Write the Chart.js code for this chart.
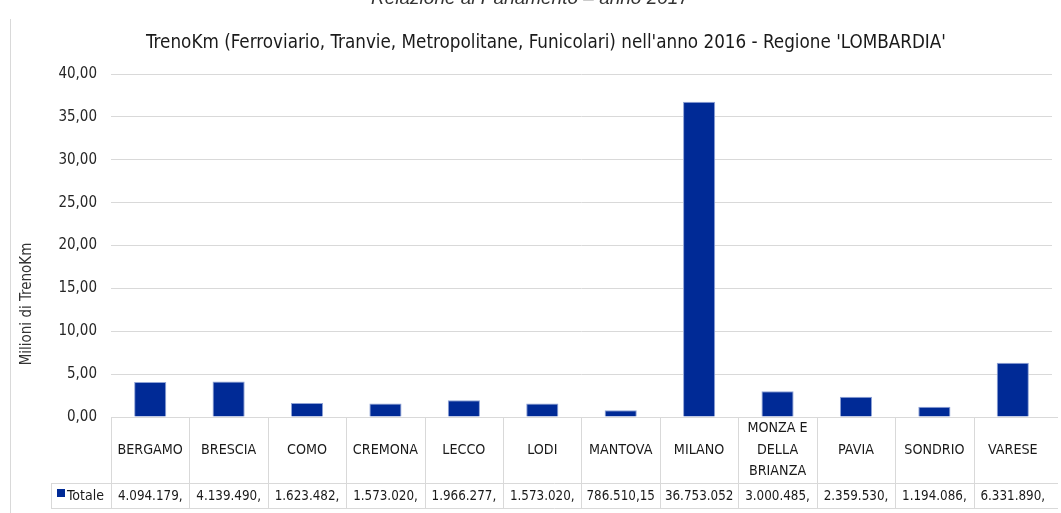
<!DOCTYPE html>
<html>
<head>
<meta charset="utf-8">
<script src="https://cdn.jsdelivr.net/npm/chart.js@4.4.1/dist/chart.umd.min.js"></script>
<style>
    html, body { margin: 0; padding: 0; background: #ffffff; }
    #wrap { position: relative; width: 1061px; height: 513px; overflow: hidden; }
</style>
</head>
<body>
<div id="wrap"><canvas id="trenoChart" width="1061" height="513"></canvas></div>
<script>
const province = ['BERGAMO', 'BRESCIA', 'COMO', 'CREMONA', 'LECCO', 'LODI', 'MANTOVA', 'MILANO',
    ['MONZA E', 'DELLA', 'BRIANZA'], 'PAVIA', 'SONDRIO', 'VARESE'];
const totaleMilioni = [4.094179, 4.139490, 1.623482, 1.573020, 1.966277, 1.573020, 0.786510,
    36.753052, 3.000485, 2.359530, 1.194086, 6.331890];
// testo della tabella dati, come appare (troncato) nel grafico
const totaleTesto = ['4.094.179,', '4.139.490,', '1.623.482,', '1.573.020,', '1.966.277,', '1.573.020,',
    '786.510,15', '36.753.052', '3.000.485,', '2.359.530,', '1.194.086,', '6.331.890,'];
const yTicks = [0, 5, 10, 15, 20, 25, 30, 35, 40];

const FONT = "'Liberation Sans Narrow', 'DejaVu Sans Condensed', 'Roboto', sans-serif";
const BLU = '#002a96';
const LINEA = '#d9d9d9';

const decorPlugin = {
    id: 'decor',
    afterDraw(chart) {
        const ctx = chart.ctx;
        const area = chart.chartArea;
        const x = chart.scales.x;
        const n = province.length;
        const colW = (area.right - area.left) / n;
        const top = area.bottom;
        const mid = top + 66;
        const bot = mid + 25;
        const legendLeft = 51;
        const rightEdge = 1058;

        ctx.save();
        // sottotitolo tagliato in alto
        ctx.fillStyle = '#333333';
        ctx.font = 'italic 19px "Liberation Sans", Arial, sans-serif';
        ctx.textAlign = 'center';
        ctx.textBaseline = 'alphabetic';
        ctx.fillText('Relazione al Parlamento \u2013 anno 2017', 530, 4);

        // cornice
        ctx.strokeStyle = LINEA;
        ctx.lineWidth = 1;
        ctx.beginPath();
        ctx.moveTo(10.5, 19);
        ctx.lineTo(10.5, 513);
        ctx.stroke();

        // titolo
        ctx.fillStyle = '#1a1a1a';
        ctx.font = '18.7px ' + FONT;
        ctx.fillText("TrenoKm (Ferroviario, Tranvie, Metropolitane, Funicolari) nell'anno 2016 - Regione 'LOMBARDIA'", 546, 48);

        // titolo asse y
        ctx.save();
        ctx.translate(27, 304);
        ctx.rotate(-Math.PI / 2);
        ctx.font = '15px ' + FONT;
        ctx.fillStyle = '#333333';
        ctx.textBaseline = 'middle';
        ctx.fillText('Milioni di TrenoKm', 0, 0);
        ctx.restore();

        // tabella dati
        ctx.strokeStyle = LINEA;
        ctx.beginPath();
        ctx.moveTo(area.left, top + 0.5);
        ctx.lineTo(rightEdge, top + 0.5);
        ctx.moveTo(legendLeft, mid + 0.5);
        ctx.lineTo(rightEdge, mid + 0.5);
        ctx.moveTo(legendLeft, bot + 0.5);
        ctx.lineTo(rightEdge, bot + 0.5);
        ctx.moveTo(legendLeft + 0.5, mid);
        ctx.lineTo(legendLeft + 0.5, bot);
        for (let i = 0; i < n; i++) {
            const bx = Math.round(x.getPixelForValue(i) - colW / 2) + 0.5;
            ctx.moveTo(bx, top);
            ctx.lineTo(bx, bot);
        }
        ctx.stroke();

        ctx.fillStyle = '#1a1a1a';
        ctx.textAlign = 'center';
        ctx.textBaseline = 'middle';
        province.forEach((p, i) => {
            const cx = x.getPixelForValue(i);
            const lines = Array.isArray(p) ? p : [p];
            const lh = 21.5;
            const y0 = (top + mid) / 2 - (lines.length - 1) * lh / 2;
            ctx.font = '14.2px ' + FONT;
            lines.forEach((l, k) => ctx.fillText(l, cx, y0 + k * lh));
            ctx.font = '13.3px ' + FONT;
            ctx.fillText(totaleTesto[i], cx, (mid + bot) / 2 + 1);
        });

        // legenda nella tabella
        ctx.fillStyle = BLU;
        ctx.fillRect(57, 489, 8, 8);
        ctx.fillStyle = '#1a1a1a';
        ctx.textAlign = 'left';
        ctx.font = '14px ' + FONT;
        ctx.fillText('Totale', 67, (mid + bot) / 2 + 1);
        ctx.restore();
    },
};

new Chart(document.getElementById('trenoChart'), {
    type: 'bar',
    data: {
        labels: province,
        datasets: [
            {
                label: 'Totale',
                data: totaleMilioni,
                backgroundColor: BLU,
                borderColor: '#8fa3d6',
                borderWidth: 1,
                barPercentage: 0.41,
                categoryPercentage: 1,
            },
        ],
    },
    options: {
        responsive: false,
        animation: false,
        layout: {
            padding: { top: 74, bottom: 96, left: 0, right: 9 },
        },
        scales: {
            x: {
                display: false,
            },
            y: {
                min: 0,
                max: 40,
                afterFit(scale) {
                    scale.width = 111;
                },
                afterBuildTicks(scale) {
                    scale.ticks = yTicks.map(v => ({ value: v }));
                },
                border: { display: false },
                grid: { color: LINEA, drawTicks: false },
                ticks: {
                    padding: 14,
                    color: '#262626',
                    font: { family: FONT, size: 15 },
                    callback: v => v.toFixed(2).replace('.', ','),
                },
            },
        },
        plugins: {
            legend: { display: false },
            tooltip: { enabled: false },
        },
    },
    plugins: [decorPlugin],
});
</script>
</body>
</html>
